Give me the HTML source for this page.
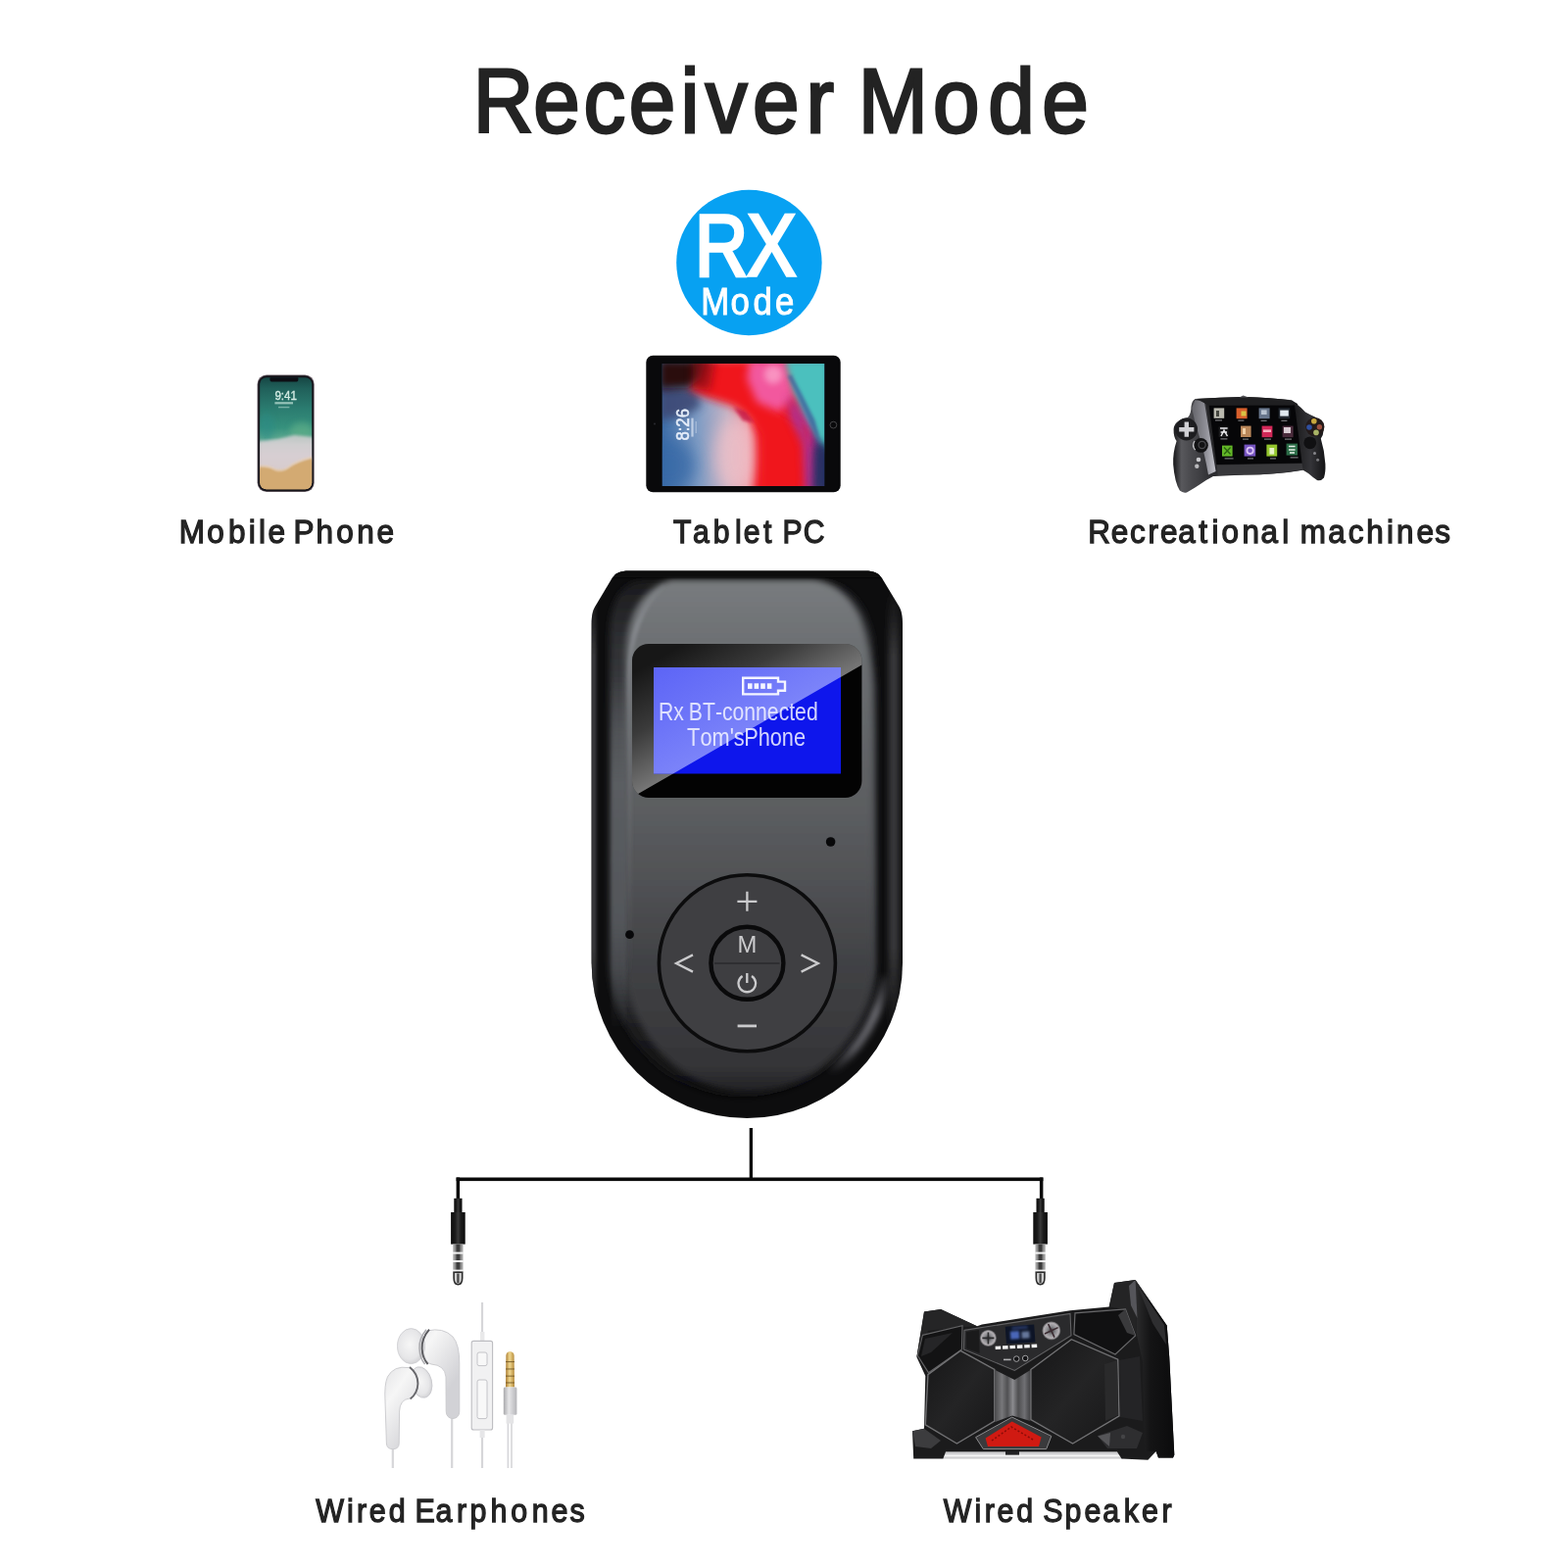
<!DOCTYPE html>
<html lang="en">
<head>
<meta charset="utf-8">
<title>Receiver Mode</title>
<style>
html,body{margin:0;padding:0;background:#fff;}
body{width:1600px;height:1600px;overflow:hidden;position:relative;font-family:"Liberation Sans",sans-serif;}
svg{position:absolute;left:0;top:0;display:block;will-change:transform;}
text{font-family:"Liberation Sans",sans-serif;}
.lbl{font-size:33.6px;fill:#232323;stroke:#232323;stroke-width:1.3px;paint-order:stroke;}
.ttl{font-size:92.4px;fill:#232323;stroke:#232323;stroke-width:2.8px;paint-order:stroke;}
</style>
</head>
<body>
<svg width="1600" height="1600" viewBox="0 0 1600 1600">
<defs>
<filter id="b1" x="-50%" y="-50%" width="200%" height="200%"><feGaussianBlur stdDeviation="0.8"/></filter>
<filter id="b2" x="-50%" y="-50%" width="200%" height="200%"><feGaussianBlur stdDeviation="1.5"/></filter>
<filter id="b3" x="-50%" y="-50%" width="200%" height="200%"><feGaussianBlur stdDeviation="3"/></filter>
<filter id="b4" x="-50%" y="-50%" width="200%" height="200%"><feGaussianBlur stdDeviation="4"/></filter>
<filter id="b8" x="-50%" y="-50%" width="200%" height="200%"><feGaussianBlur stdDeviation="8"/></filter>
</defs>
<rect width="1600" height="1600" fill="#fff"/>
<!-- title -->
<text class="ttl" transform="scale(0.9249,1)" x="521.83 588.54 643.82 693.96 750.95 778.10 830.47 889.31 920.08 946.85 1029.32 1090.21 1149.70" y="134.6">Receiver Mode</text>
<!-- RX badge -->
<g id="badge">
<circle cx="764.4" cy="268" r="74.2" fill="#07a1f2"/>
<text transform="scale(0.8404,1)" x="843.64 907.16" y="281" font-size="89.4" fill="#fff" stroke="#fff" stroke-width="3.4">RX</text>
<text transform="scale(0.8852,1)" x="807.90 842.27 868.13 893.49" y="320.7" font-size="39.2" fill="#fff" stroke="#fff" stroke-width="1">Mode</text>
</g>
<!-- labels -->
<text class="lbl" transform="scale(0.9365,1)" x="195.10 225.51 248.76 270.96 281.97 291.99 310.67 319.79 344.28 366.57 388.99 410.46" y="554.1">Mobile Phone</text>
<text class="lbl" transform="scale(0.8972,1)" x="765.84 787.99 811.29 835.91 845.80 868.26 877.60 890.01 913.80" y="554.2">Tablet PC</text>
<text class="lbl" transform="scale(0.9353,1)" x="1187.02 1212.07 1232.76 1252.45 1265.80 1285.53 1307.95 1322.07 1332.67 1355.29 1375.45 1398.82 1406.29 1418.44 1449.04 1470.88 1490.79 1512.87 1523.64 1545.54 1565.46" y="554.3">Recreational machines</text>
<text class="lbl" transform="scale(0.9054,1)" x="355.84 390.99 402.17 416.24 438.15 456.84 467.76 490.91 514.61 529.73 552.87 575.73 599.42 621.21 642.14" y="1552.8">Wired Earphones</text>
<text class="lbl" transform="scale(0.9026,1)" x="1066.70 1101.70 1113.11 1127.27 1149.19 1167.88 1178.98 1203.72 1225.87 1246.59 1270.42 1290.66 1313.29" y="1552.9">Wired Speaker</text>
<g id="wires" fill="#0a0a0a">
<rect x="764.7" y="1151" width="3.3" height="53"/>
<rect x="465.6" y="1201.5" width="598.8" height="3.6"/>
<rect x="465.6" y="1201.5" width="3.5" height="22"/>
<rect x="1060.9" y="1201.5" width="3.5" height="22"/>
</g>
<g id="phone">
  <defs>
    <clipPath id="phClip"><rect x="265.2" y="385.2" width="53" height="114" rx="6.6" ry="6.6"/></clipPath>
    <linearGradient id="phG" gradientUnits="userSpaceOnUse" x1="0" y1="385" x2="0" y2="499">
      <stop offset="0" stop-color="#164644"/><stop offset=".1" stop-color="#20605a"/><stop offset=".28" stop-color="#2b7c70"/><stop offset=".45" stop-color="#36917d"/><stop offset=".54" stop-color="#58a68e"/><stop offset=".6" stop-color="#a8c8be"/><stop offset=".7" stop-color="#d3c9ce"/><stop offset=".8" stop-color="#d2bcba"/><stop offset=".86" stop-color="#d2aa74"/><stop offset="1" stop-color="#d4ac74"/>
    </linearGradient>
  </defs>
  <rect x="262.5" y="382.5" width="58.2" height="119.6" rx="9.5" ry="9.5" fill="#6c6069"/>
  <rect x="263.3" y="383.3" width="56.6" height="118" rx="8.8" ry="8.8" fill="#15141a"/>
  <rect x="265.2" y="385.2" width="53" height="114" rx="6.6" ry="6.6" fill="url(#phG)"/>
  <g clip-path="url(#phClip)">
    <ellipse cx="308" cy="440" rx="12" ry="9" fill="#5fae88" opacity=".7" filter="url(#b3)"/>
    <ellipse cx="272" cy="436" rx="8" ry="14" fill="#2a8a86" opacity=".55" filter="url(#b3)"/>
    <path d="M262,451 L284,448 L300,444 L320,446 L320,470 L300,476 L290,481 L262,478 Z" fill="#d8d0d4" opacity=".82" filter="url(#b2)"/>
    <path d="M262,476.4 Q274,475 281,480 Q288,482.6 295,477 Q303,470.6 320,467 L320,502 L262,502 Z" fill="#d3aa72" filter="url(#b1)"/>
    <path d="M265,476 Q274,474.6 281,479.4 Q288,482 295,476.4 Q303,470 319,466.4" fill="none" stroke="#f2d6b6" stroke-width="1.2" opacity=".85" filter="url(#b1)"/>
    <rect x="275.4" y="384" width="29" height="5.6" rx="2.6" fill="#0d0e14"/>
  </g>
  <text x="291.6" y="407.6" font-size="13" text-anchor="middle" fill="#d9f0e9" stroke="#d9f0e9" stroke-width=".35" fill-opacity=".92" textLength="22.4" lengthAdjust="spacingAndGlyphs">9:41</text>
  <rect x="280.4" y="410.2" width="18.6" height="2.2" fill="#c4e6dc" opacity=".7"/>
  <rect x="284" y="414.8" width="11.4" height="1.5" fill="#c4e6dc" opacity=".5"/>
</g>
<g id="tablet">
  <defs>
    <clipPath id="tbClip"><rect x="675.8" y="371" width="165.4" height="125"/></clipPath>
    <linearGradient id="tbG" gradientUnits="userSpaceOnUse" x1="676" y1="0" x2="841" y2="0">
      <stop offset="0" stop-color="#3f6ea8"/><stop offset=".22" stop-color="#7f9cc4"/><stop offset=".4" stop-color="#c4b4c6"/><stop offset=".52" stop-color="#f0a0aa"/><stop offset=".6" stop-color="#f2202c"/><stop offset=".8" stop-color="#ee1c30"/><stop offset=".9" stop-color="#b02c8c"/><stop offset="1" stop-color="#26346a"/>
    </linearGradient>
  </defs>
  <rect x="659.3" y="362.7" width="198.4" height="139.6" rx="7" ry="7" fill="#09090b"/>
  <rect x="675.8" y="371" width="165.4" height="125" fill="url(#tbG)"/>
  <g clip-path="url(#tbClip)">
    <!-- dark slate left -->
    <polygon points="671.9,391.7 710.2,398.0 715.4,414.6 696.7,424.9 671.9,429.1" fill="#3c4a74" opacity=".9" filter="url(#b4)"/>
    <!-- deeper blue bottom-left -->
    <ellipse cx="682.2" cy="474.7" rx="27.0" ry="27.0" fill="#3468a6" opacity=".75" filter="url(#b8)"/>
    <!-- light pink centre -->
    <ellipse cx="750.7" cy="464.4" rx="20.7" ry="37.3" fill="#eec0c8" opacity=".8" filter="url(#b8)"/>
    <!-- red mass -->
    <polygon points="710.2,366.9 769.4,366.9 784.9,414.6 824.3,437.4 826.4,501.7 775.6,501.7 775.6,443.6 767.3,429.1 748.6,414.6 719.6,405.2 703.0,396.9" fill="#f0131f" filter="url(#b4)"/>
    <!-- dark top-left -->
    <polygon points="671.9,366.9 720.6,366.9 715.4,386.6 701.9,395.9 671.9,396.9" fill="#2a0810" filter="url(#b4)"/>
    <polygon points="707.1,366.9 729.9,366.9 724.8,398.0 707.1,396.9" fill="#8c0a14" opacity=".7" filter="url(#b4)"/>
    <!-- pink -->
    <polygon points="765.2,366.9 803.6,366.9 810.9,405.2 795.3,419.8 772.5,410.4 762.1,386.6" fill="#f2589e" filter="url(#b4)"/>
    <ellipse cx="789.1" cy="382.4" rx="9.3" ry="9.3" fill="#fba6cc" opacity=".75" filter="url(#b3)"/>
    <!-- magenta / purple band -->
    <polygon points="803.6,402.1 814.0,414.6 828.5,456.1 831.6,501.7 821.2,501.7 819.2,454.0 805.7,424.9" fill="#a8349a" opacity=".9" filter="url(#b4)"/>
    <!-- teal -->
    <polygon points="800.5,366.9 846.1,366.9 846.1,464.4 835.8,449.8 821.2,422.9 808.8,398.0" fill="#4cc0be" filter="url(#b3)"/>
    <polygon points="803.6,383.4 812.9,402.1 826.4,431.2 837.8,454.0 831.6,429.1 817.1,400.0 807.7,382.4" fill="#3c5a9a" opacity=".7" filter="url(#b2)"/>
    <!-- navy bottom-right -->
    <polygon points="831.6,456.1 846.1,451.9 846.1,501.7 829.5,501.7" fill="#263064" opacity=".92" filter="url(#b4)"/>
    <!-- small folds -->
    <polygon points="748.6,415.6 761.1,419.8 769.4,431.2 758.0,429.1" fill="#c01040" opacity=".7" filter="url(#b2)"/>
  </g>
  <circle cx="850.4" cy="433.6" r="3.4" fill="none" stroke="#4a4a4c" stroke-width=".9"/>
  <circle cx="668" cy="432.6" r="1" fill="#2a2a30"/>
  <text transform="translate(702.8,449.6) rotate(-90)" font-size="18.4" fill="#e6eefa" stroke="#e6eefa" stroke-width=".5" textLength="32.6" lengthAdjust="spacingAndGlyphs">8:26</text>
  <rect x="705.4" y="426.6" width="2.2" height="19" fill="#dfe8f6" opacity=".7"/>
  <rect x="709.6" y="430" width="1.2" height="12" fill="#dfe8f6" opacity=".45"/>
</g>
<g id="console">
  <defs>
    <linearGradient id="cgL" gradientUnits="userSpaceOnUse" x1="1197" y1="0" x2="1236" y2="0">
      <stop offset="0" stop-color="#141416"/><stop offset=".22" stop-color="#58585c"/><stop offset=".45" stop-color="#4a4a4e"/><stop offset=".75" stop-color="#3c3c40"/><stop offset="1" stop-color="#2c2c30"/>
    </linearGradient>
    <linearGradient id="cgR" gradientUnits="userSpaceOnUse" x1="1322" y1="0" x2="1353" y2="0">
      <stop offset="0" stop-color="#1c1c1e"/><stop offset=".5" stop-color="#343438"/><stop offset="1" stop-color="#121214"/>
    </linearGradient>
    <linearGradient id="cgP" gradientUnits="userSpaceOnUse" x1="1218" y1="0" x2="1240" y2="0">
      <stop offset="0" stop-color="#6a6a70"/><stop offset=".55" stop-color="#8e8e96"/><stop offset="1" stop-color="#c0c0c8"/>
    </linearGradient>
  </defs>
  <!-- main body bar -->
  <path d="M1219.6,407 Q1245,405.4 1269,405 Q1296,405.6 1318,408.6 L1324,412 L1334,478 L1328,480 Q1300,484.6 1270,484.4 L1238,486 L1226,420 Z" fill="#242426"/>
  <!-- left grip -->
  <path d="M1219.6,407 Q1216,409 1215.4,415.2 Q1215.6,422 1212,426 Q1198,429 1197.6,438 Q1197.4,446 1200.6,450 Q1196.6,462 1197.2,474 Q1198.6,492 1203.8,500.6 Q1207,503.4 1211,502.4 Q1219,498 1224.4,494.2 Q1232,489 1238,486 L1243,484.6 L1230,408.4 Z" fill="url(#cgL)"/>
  <!-- silver panel -->
  <path d="M1219.4,408.4 L1228.8,409.6 L1240.6,481 L1233,484.4 Q1229,462 1224,446 Q1218,428 1216.4,416 Z" fill="url(#cgP)"/>
  <!-- right grip -->
  <path d="M1318,408.6 L1322,411.6 Q1328,416 1332,420.6 Q1337,423.4 1342,425.6 Q1350,430 1350.6,439 Q1350.4,444 1347.8,447.6 Q1351.6,460 1352.4,473.6 Q1352.8,482 1351,487.4 Q1348,491 1344,490 Q1339,486.6 1335,483 L1328.5,479 L1322,430 Z" fill="url(#cgR)"/>
  <!-- screen -->
  <path d="M1233.6,413.6 L1321,413.4 L1328.6,472.4 L1241.4,474 Z" fill="#060608"/>
  <!-- bottom bar -->
  <path d="M1241.4,474.6 L1328.6,473 L1329.6,479.4 Q1300,484.4 1270,484.4 L1242.6,485 Z" fill="#38383b"/>
  <!-- top lip -->
  <path d="M1221,407 Q1245,405.4 1269,405 Q1296,405.6 1318,408.6 L1321,413 L1233,413.4 Z" fill="#1f1f21"/>
  <path d="M1264.5,405.4 L1268.6,403.4 L1274,405.4 Z" fill="#55555a"/>
  <!-- icons -->
  <g>
    <rect x="1238.6" y="416.4" width="10.6" height="10.4" fill="#b9b8ae"/><rect x="1241" y="419" width="3" height="6" fill="#45463f"/>
    <rect x="1261.6" y="416.4" width="11" height="10.8" fill="#d8602c"/><rect x="1266.5" y="419.5" width="5" height="5" fill="#d8c244"/>
    <rect x="1284.6" y="416.4" width="11" height="10.8" fill="#68768c"/><rect x="1287" y="418.4" width="5.6" height="4.6" fill="#b8c2d0"/>
    <rect x="1304.6" y="416.4" width="11.6" height="10.8" fill="#222830"/><rect x="1306.2" y="418.6" width="8.6" height="6" fill="#e0e8ef"/>
    <rect x="1243.6" y="435.4" width="10" height="10.6" fill="#1a1a1c"/><path d="M1245,437 H1252.6 M1246,445 L1249,439 L1252.4,445 M1245.6,441 H1252" stroke="#e8e8ea" stroke-width="1.5" fill="none"/>
    <rect x="1266" y="434.6" width="10.6" height="11.4" fill="#b9875a"/><rect x="1268" y="437" width="3" height="6" fill="#f0d0a8"/>
    <rect x="1287.6" y="434.6" width="10.8" height="11.6" fill="#d22858"/><rect x="1289" y="438.4" width="8" height="2.6" fill="#f8b0c0"/>
    <rect x="1308.6" y="434.6" width="11" height="11.6" fill="#4a2c3c"/><rect x="1310" y="436" width="7" height="6" fill="#d8ccd2"/>
    <rect x="1247" y="454.6" width="10.6" height="11" fill="#64b828"/><path d="M1249,456.6 L1255.6,463.6 M1255.6,456.6 L1249,463.6" stroke="#2c6412" stroke-width="1.4"/>
    <rect x="1269.6" y="453.6" width="11.6" height="12" fill="#7654c0"/><circle cx="1275.6" cy="459.8" r="3.2" fill="none" stroke="#dcc4f6" stroke-width="1.8"/>
    <rect x="1292.4" y="453.6" width="10.8" height="12" fill="#94c62e"/><rect x="1295.4" y="457" width="4.8" height="6.6" fill="#e6f2c6"/>
    <rect x="1312.6" y="452.6" width="11.4" height="12" fill="#2c6c48"/><path d="M1315,455.6 H1321.6 M1315,459 H1321.6 M1316,462 H1321" stroke="#e6efe8" stroke-width="1.5"/>
    <g fill="#c9c9cc" opacity=".7">
      <rect x="1240" y="428.4" width="7" height="1"/><rect x="1263.4" y="428.6" width="6" height="1"/><rect x="1286.6" y="428.8" width="6" height="1"/><rect x="1307.4" y="428.8" width="6" height="1"/>
      <rect x="1245.4" y="447.4" width="7" height="1"/><rect x="1268" y="447.6" width="6" height="1"/><rect x="1290" y="447.6" width="7" height="1"/><rect x="1311" y="447.6" width="7" height="1"/>
      <rect x="1249.6" y="467.4" width="9" height="1"/><rect x="1273" y="467.4" width="6" height="1"/><rect x="1296" y="467.4" width="6" height="1"/><rect x="1316.6" y="466.4" width="8" height="1"/>
    </g>
  </g>
  <!-- d-pad -->
  <circle cx="1210.6" cy="438" r="11.4" fill="#1d1d20"/>
  <path d="M1208.6,430.6 h4.4 v5.4 h5.4 v4.4 h-5.4 v5.4 h-4.4 v-5.4 h-5.4 v-4.4 h5.4 Z" fill="#d0d0d4"/>
  <!-- left stick -->
  <circle cx="1225.4" cy="454.4" r="7.4" fill="#121214"/>
  <circle cx="1226.6" cy="454" r="3.6" fill="none" stroke="#4a4a4e" stroke-width="1.2"/>
  <path d="M1219,450 A7.4,7.4 0 0 0 1219.6,459" fill="none" stroke="#c8c8cc" stroke-width="1.2"/>
  <circle cx="1223" cy="469" r="2.3" fill="#c9c9cc"/>
  <circle cx="1221.3" cy="475.8" r="2.2" fill="#b9b9bc"/>
  <!-- abxy -->
  <circle cx="1341.8" cy="435.6" r="9.6" fill="#231a1a"/>
  <circle cx="1340.8" cy="429.8" r="2.8" fill="#c9a83e"/>
  <circle cx="1336" cy="436" r="2.8" fill="#2f4f9f"/>
  <circle cx="1346.4" cy="435.8" r="2.7" fill="#9c5040"/>
  <circle cx="1343" cy="441.4" r="2.8" fill="#a9b466"/>
  <!-- right stick -->
  <circle cx="1336.8" cy="451.8" r="6.4" fill="#101012"/>
  <circle cx="1341.5" cy="462.6" r="1.5" fill="#88888c"/>
  <circle cx="1344.6" cy="469.2" r="1.5" fill="#7a7a7e"/>
</g>
<g id="device">
  <defs>
    <clipPath id="shellClip"><path d="M642,582.4 L883,582.4 C892,582.4 896,584.4 900,590 L917.5,619 C920,623.5 921,629 921,637 L921,982.3 A158.7,158.7 0 0 1 603.6,982.3 L603.6,637 C603.6,629 604.6,623.5 607.2,619 L624.5,590 C628.5,584.4 632.5,582.4 642,582.4 Z"/></clipPath>
    <clipPath id="bezelClip"><rect x="645" y="657" width="234.4" height="157" rx="17" ry="17"/></clipPath>
    <clipPath id="lcdClip"><rect x="667" y="681" width="191" height="108.5"/></clipPath>
    <linearGradient id="rimG" gradientUnits="userSpaceOnUse" x1="0" y1="590" x2="0" y2="1120">
      <stop offset="0" stop-color="#1a1a1c"/><stop offset=".1" stop-color="#2b2c2f"/><stop offset=".3" stop-color="#45474b"/><stop offset=".55" stop-color="#4b4d51"/><stop offset=".75" stop-color="#3e4044"/><stop offset=".87" stop-color="#1c1c1e"/><stop offset="1" stop-color="#0d0d0e"/>
    </linearGradient>
    <linearGradient id="faceG" gradientUnits="userSpaceOnUse" x1="0" y1="591" x2="0" y2="1120">
      <stop offset="0" stop-color="#797c7f"/><stop offset=".12" stop-color="#6d7073"/><stop offset=".45" stop-color="#5b5d60"/><stop offset=".6" stop-color="#4f5053"/><stop offset=".74" stop-color="#414245"/><stop offset=".86" stop-color="#3a3a3d"/><stop offset=".94" stop-color="#343437"/><stop offset="1" stop-color="#1e1e20"/>
    </linearGradient>
    <linearGradient id="glareG" gradientUnits="userSpaceOnUse" x1="715" y1="647" x2="770" y2="742">
      <stop offset="0" stop-color="#fff" stop-opacity=".08"/><stop offset=".5" stop-color="#fff" stop-opacity=".22"/><stop offset="1" stop-color="#fff" stop-opacity=".46"/>
    </linearGradient>
    <linearGradient id="glareL" gradientUnits="userSpaceOnUse" x1="715" y1="647" x2="770" y2="742">
      <stop offset="0" stop-color="#a2aaff" stop-opacity=".52"/><stop offset=".5" stop-color="#a2aaff" stop-opacity=".62"/><stop offset="1" stop-color="#a6aeff" stop-opacity=".72"/>
    </linearGradient>
    <linearGradient id="fadeV" gradientUnits="userSpaceOnUse" x1="0" y1="600" x2="0" y2="1060">
      <stop offset="0" stop-color="#3a3a3c" stop-opacity="0"/><stop offset=".15" stop-color="#3a3a3c" stop-opacity="1"/><stop offset=".8" stop-color="#3a3a3c" stop-opacity="1"/><stop offset="1" stop-color="#3a3a3c" stop-opacity="0"/>
    </linearGradient>
    <linearGradient id="hlL" gradientUnits="userSpaceOnUse" x1="0" y1="590" x2="0" y2="1000">
      <stop offset="0" stop-color="#8a8d92" stop-opacity=".1"/><stop offset=".12" stop-color="#8a8d92" stop-opacity=".75"/><stop offset=".35" stop-color="#7c7f84" stop-opacity=".5"/><stop offset="1" stop-color="#6a6c70" stop-opacity="0"/>
    </linearGradient>
    <linearGradient id="rimL" gradientUnits="userSpaceOnUse" x1="0" y1="690" x2="0" y2="1050">
      <stop offset="0" stop-color="#5d6064" stop-opacity="0"/><stop offset=".3" stop-color="#5d6064" stop-opacity=".85"/><stop offset=".7" stop-color="#55585c" stop-opacity=".85"/><stop offset="1" stop-color="#4a4c50" stop-opacity="0"/>
    </linearGradient>
    <linearGradient id="hlBR" gradientUnits="userSpaceOnUse" x1="905" y1="990" x2="845" y2="1095">
      <stop offset="0" stop-color="#6a6a70" stop-opacity="0"/><stop offset=".35" stop-color="#6a6a70" stop-opacity="1"/><stop offset=".7" stop-color="#66666c" stop-opacity=".9"/><stop offset="1" stop-color="#606066" stop-opacity="0"/>
    </linearGradient>
  </defs>
  <!-- outer shell -->
  <path d="M642,582.4 L883,582.4 C892,582.4 896,584.4 900,590 L917.5,619 C920,623.5 921,629 921,637 L921,982.3 A158.7,158.7 0 0 1 603.6,982.3 L603.6,637 C603.6,629 604.6,623.5 607.2,619 L624.5,590 C628.5,584.4 632.5,582.4 642,582.4 Z" fill="#0d0d0e"/>
  <g clip-path="url(#shellClip)">
    <!-- outer edge subtle highlights -->
    <rect x="603" y="600" width="5.5" height="460" fill="url(#fadeV)" filter="url(#b2)"/>
    <rect x="907" y="600" width="10" height="460" fill="url(#fadeV)" filter="url(#b3)"/>
    <!-- rim -->
    <path d="M660,592 L840,592 Q880,598 890,650 L894,700 L894,982.3 A136,137 0 0 1 622,982.3 L622,650 Q622,592 660,592 Z" fill="url(#rimG)" filter="url(#b3)"/>
    <!-- face -->
    <path d="M688,591.5 L830,591.5 Q862,596 878,630 Q889,660 890,700 L890,982.3 A125.8,132 0 0 1 638.4,982.3 L638.4,668 Q639.4,606 685,591.5 Z" fill="url(#faceG)" filter="url(#b3)"/>
    <!-- top black lip -->
    <rect x="600" y="575" width="330" height="14.5" fill="#0b0b0c" filter="url(#b1)"/>
    <!-- left mid rim stripe -->
    <rect x="624" y="690" width="15" height="360" fill="url(#rimL)" filter="url(#b2)"/>
    <!-- left rim light -->
    <path d="M642.2,1000 L642.2,690 Q642.6,628 678,597" fill="none" stroke="url(#hlL)" stroke-width="5" filter="url(#b2)"/>
    <!-- bottom right highlight -->
    <path d="M903,996 A141,141 0 0 1 846,1094" fill="none" stroke="url(#hlBR)" stroke-width="9" filter="url(#b3)"/>
  </g>
  <!-- screen bezel -->
  <rect x="645" y="657" width="234.4" height="157" rx="17" ry="17" fill="#030303"/>
  <g clip-path="url(#bezelClip)">
    <polygon points="640,650 930,650 930,649.5 879.4,678.4 652.5,809.3 640,816.5" fill="url(#glareG)"/>
  </g>
  <!-- LCD -->
  <rect x="667" y="681" width="191" height="108.5" fill="#0e16ec"/>
  <g clip-path="url(#lcdClip)">
    <polygon points="640,650 930,650 930,649.5 879.4,678.4 652.5,809.3 640,816.5" fill="url(#glareL)"/>
  </g>
  <!-- battery -->
  <g fill="none" stroke="#f4f5ff" stroke-width="2.4">
    <path d="M758.2,691.8 H794 V695.6 H801 V704.8 H794 V708.4 H758.2 Z"/>
  </g>
  <g fill="#f4f5ff">
    <rect x="763" y="697.3" width="4.6" height="5.6"/><rect x="769.6" y="697.3" width="4.6" height="5.6"/><rect x="776.2" y="697.3" width="4.6" height="5.6"/><rect x="782.8" y="697.3" width="4.6" height="5.6"/>
  </g>
  <text transform="scale(0.8334,1)" x="806.30 824.65 837.35 843.39 860.33 875.85 884.31 897.01 911.13 925.26 939.38 953.51 966.21 973.27 987.39" y="735.2" font-size="25.4" fill="#f2f3ff" fill-opacity=".86">Rx BT-connected</text>
  <text transform="scale(0.8571,1)" x="818.03 833.55 847.67 868.83 873.68 886.38 885.71 902.66 916.78 930.91 945.03" y="760.8" font-size="25.4" fill="#f2f3ff" fill-opacity=".86">Tom's Phone</text>
  <!-- dots -->
  <circle cx="847.6" cy="859" r="4.8" fill="#08080a"/>
  <circle cx="642.5" cy="953.7" r="4.4" fill="#08080a"/>
  <!-- d-pad -->
  <circle cx="762.4" cy="982.8" r="90" fill="#3f3f42" stroke="#0c0c0d" stroke-width="3.6"/>
  <circle cx="762.4" cy="982.8" r="37" fill="#3e3e41" stroke="#0a0a0b" stroke-width="4.4"/>
  <line x1="729" y1="983" x2="795.5" y2="983" stroke="#2a2a2c" stroke-width="1.6"/>
  <g fill="none" stroke="#cbcbcd" stroke-width="2.3">
    <path d="M752.4,919.8 H772.4 M762.4,909.8 V929.8"/>
    <path d="M752.6,1046.9 H772" stroke-width="2.8"/>
    <path d="M707,974.4 L690,983 L707,991.6"/>
    <path d="M817.6,974.4 L834.8,983 L817.6,991.6"/>
    <path d="M757.6,996 A8.8,8.8 0 1 0 767,996 M762.3,993 V1003"/>
  </g>
  <text x="762.4" y="971.8" font-size="23.8" text-anchor="middle" fill="#cbcbcd">M</text>
</g>
<g id="jacks">
  <defs>
    <linearGradient id="jkB" x1="0" y1="0" x2="1" y2="0">
      <stop offset="0" stop-color="#0a0a0a"/><stop offset=".3" stop-color="#1c1c1c"/><stop offset=".5" stop-color="#383838"/><stop offset=".7" stop-color="#1c1c1c"/><stop offset="1" stop-color="#0a0a0a"/>
    </linearGradient>
    <linearGradient id="jkM" x1="0" y1="0" x2="1" y2="0">
      <stop offset="0" stop-color="#b8b8b8"/><stop offset=".22" stop-color="#8a8a8a"/><stop offset=".4" stop-color="#3c3c3c"/><stop offset=".6" stop-color="#3c3c3c"/><stop offset=".78" stop-color="#8a8a8a"/><stop offset="1" stop-color="#b8b8b8"/>
    </linearGradient>
    <g id="jack">
      <rect x="-4.1" y="1222.8" width="8.2" height="15" fill="url(#jkB)"/>
      <rect x="-7.3" y="1237" width="14.6" height="32.6" fill="url(#jkB)"/>
      <rect x="-5.2" y="1269.6" width="10.4" height="29" fill="url(#jkM)"/>
      <rect x="-5.4" y="1277.6" width="10.8" height="2" fill="#f4f4f4"/>
      <rect x="-5.4" y="1286" width="10.8" height="2" fill="#f4f4f4"/>
      <rect x="-5.4" y="1295.6" width="10.8" height="2" fill="#f4f4f4"/>
      <path d="M-4.3,1298.2 H4.3 V1304 C4.3,1308.4 2.6,1310.6 0,1310.6 C-2.6,1310.6 -4.3,1308.4 -4.3,1304 Z" fill="#cfcfcf" stroke="#2c2c2c" stroke-width="1.6"/>
      <rect x="-1.1" y="1299.5" width="2.2" height="9.5" fill="#444"/>
    </g>
  </defs>
  <use href="#jack" transform="translate(467.4,0)"/>
  <use href="#jack" transform="translate(1061.6,0)"/>
</g>
<g id="earphones">
  <defs>
    <linearGradient id="epA" gradientUnits="userSpaceOnUse" x1="405" y1="1355" x2="470" y2="1400">
      <stop offset="0" stop-color="#dadadd"/><stop offset=".45" stop-color="#f6f6f6"/><stop offset="1" stop-color="#d2d2d6"/>
    </linearGradient>
    <radialGradient id="epT" cx=".45" cy=".45" r=".6"><stop offset="0" stop-color="#f6f6f6"/><stop offset=".7" stop-color="#e6e6e8"/><stop offset="1" stop-color="#cdcdd0"/></radialGradient>
    <linearGradient id="epS" x1="0" y1="0" x2="1" y2="0">
      <stop offset="0" stop-color="#dedee0"/><stop offset=".4" stop-color="#f8f8f8"/><stop offset="1" stop-color="#e2e2e4"/>
    </linearGradient>
    <linearGradient id="epJ" x1="0" y1="0" x2="1" y2="0">
      <stop offset="0" stop-color="#a9a9ac"/><stop offset=".4" stop-color="#e6e6e8"/><stop offset="1" stop-color="#b4b4b8"/>
    </linearGradient>
    <linearGradient id="epGold" x1="0" y1="0" x2="1" y2="0">
      <stop offset="0" stop-color="#a8782c"/><stop offset=".45" stop-color="#f0d890"/><stop offset="1" stop-color="#b48838"/>
    </linearGradient>
  </defs>
  <!-- cables -->
  <g fill="none" stroke="#d6d6d9" stroke-width="2.2">
    <path d="M400.8,1476 V1498"/>
    <path d="M461.2,1446 V1498"/>
    <path d="M492,1329 V1368 M492,1459 V1498"/>
    <path d="M518.4,1444 V1498 M522,1444 V1498" stroke-width="1.6"/>
  </g>
  <!-- upper earbud -->
  <path d="M436,1358 Q452,1354 462,1364 Q469,1372 468.8,1392 L468.8,1440 Q468.8,1447 462,1447.6 Q455.4,1447 455.2,1440 L455,1405 Q454,1393 440,1392 Q433,1391 432,1376 Q432,1362 436,1358 Z" fill="url(#epA)" stroke="#c8c8cc" stroke-width=".9"/>
  <ellipse cx="419.5" cy="1373.6" rx="14" ry="18" fill="url(#epT)" stroke="#cfcfd2" stroke-width=".9"/>
  <path d="M438,1356.6 Q430,1366 430.6,1376 Q431,1386 436.6,1392" fill="none" stroke="#5a5a5e" stroke-width="1.9"/>
  <path d="M435,1356.8 Q427.4,1366 428,1376 Q428.4,1386 433.6,1392" fill="none" stroke="#aeaeb2" stroke-width="1.6"/>
  <!-- lower earbud -->
  <ellipse cx="430" cy="1410.5" rx="10.5" ry="16" fill="url(#epT)" stroke="#cacace" stroke-width=".9" transform="rotate(-14 430 1410.5)"/>
  <path d="M417,1395.6 Q402,1393 395.4,1405 Q392,1413 393,1430 L394.4,1473 Q394.8,1478.6 401,1478.8 Q407,1478.6 407.2,1473 L407.6,1440 Q408,1428 418,1427 Q427,1424 427,1410 Q426,1398 417,1395.6 Z" fill="url(#epA)" stroke="#c8c8cc" stroke-width=".9"/>
  <path d="M418,1395 Q426.6,1402 426.4,1412 Q426,1422 418.6,1427.4" fill="none" stroke="#66666a" stroke-width="1.8"/>
  <!-- remote -->
  <rect x="490" y="1359" width="4.4" height="10" fill="#e9e9ea"/>
  <rect x="481.2" y="1368.4" width="21.4" height="90.6" rx="2" fill="#f1f1f2" stroke="#bdbdc1" stroke-width="1.1"/>
  <rect x="487" y="1380" width="10" height="13.6" rx="2" fill="#f8f8f8" stroke="#c4c4c8" stroke-width="1"/>
  <rect x="487" y="1408" width="10" height="39.6" rx="2" fill="#f8f8f8" stroke="#c4c4c8" stroke-width="1"/>
  <rect x="489.6" y="1459" width="5" height="8" fill="#e6e6e8"/>
  <!-- jack -->
  <path d="M516.4,1383 Q516.6,1379.4 520.4,1379 Q524.4,1379.4 524.6,1383 L525,1415.6 L516,1415.6 Z" fill="url(#epGold)"/>
  <g fill="#6a5020" opacity=".75"><rect x="516" y="1389" width="9" height="1.1"/><rect x="516" y="1396.4" width="9" height="1.1"/><rect x="516" y="1403.6" width="9" height="1.1"/><rect x="516" y="1410.4" width="9" height="1.1"/></g>
  <rect x="513.8" y="1415.6" width="13.6" height="28.2" rx="1.4" fill="url(#epJ)"/>
  <rect x="516.6" y="1443.6" width="7.6" height="9" fill="#e4e4e6"/>
</g>
<g id="speaker">
  <defs>
    <linearGradient id="spCol" gradientUnits="userSpaceOnUse" x1="1015" y1="0" x2="1052" y2="0">
      <stop offset="0" stop-color="#4a4a4c"/><stop offset=".2" stop-color="#77777a"/><stop offset=".35" stop-color="#505052"/><stop offset=".5" stop-color="#8a8a8e"/><stop offset=".65" stop-color="#4e4e50"/><stop offset=".82" stop-color="#707074"/><stop offset="1" stop-color="#3c3c3e"/>
    </linearGradient>
    <linearGradient id="spHex" x1="0" y1="0" x2="1" y2="1">
      <stop offset="0" stop-color="#161617"/><stop offset=".5" stop-color="#242425"/><stop offset="1" stop-color="#171718"/>
    </linearGradient>
    <linearGradient id="spSide" gradientUnits="userSpaceOnUse" x1="1160" y1="0" x2="1199" y2="0">
      <stop offset="0" stop-color="#2a2a2b"/><stop offset=".35" stop-color="#141415"/><stop offset="1" stop-color="#0b0b0c"/>
    </linearGradient>
    <radialGradient id="spKnob" cx=".5" cy=".5" r=".5">
      <stop offset="0" stop-color="#3a3a3c"/><stop offset=".45" stop-color="#8c8c90"/><stop offset=".8" stop-color="#b4b0b4"/><stop offset="1" stop-color="#4a4a4c"/>
    </radialGradient>
  </defs>
  <!-- floor reflection -->
  <rect x="962" y="1482" width="184" height="6.6" fill="#cfcfd1"/>
  <rect x="962" y="1484.4" width="184" height="2" fill="#f4f4f4"/>
  <!-- silhouette -->
  <path d="M943,1338.5 L960,1336 L997,1353.3 L1002,1351.4 L1092,1337.3 L1131.7,1333.4 L1137,1309 L1158.6,1306 L1190.7,1352.6 L1193.2,1384.7 L1198.3,1484.6 L1197,1487.4 L1182,1487.4 L1179.6,1481 L1171.4,1489.7 L1144.5,1488.4 L1140,1481.4 L965,1481.4 L962.3,1488.4 L932.2,1488.4 L931,1460.2 L943,1457.7 L944.3,1404 L935.4,1384.7 Z" fill="#1b1b1c"/>
  <!-- right side face -->
  <path d="M1158.6,1306 L1190.7,1352.6 L1193.2,1384.7 L1198.3,1484.6 L1197,1487.4 L1182,1487.4 L1179.6,1481 L1168,1481 L1166,1390 L1160,1362 Z" fill="url(#spSide)"/>
  <path d="M1160,1310 L1188,1352 L1190,1372 L1176,1350 Z" fill="#2e2e30"/>
  <!-- right horn front -->
  <path d="M1137,1309 L1158.6,1306 L1160,1362 L1148.4,1336 L1131.7,1333.4 Z" fill="#242425"/>
  <path d="M1152,1312 L1158.6,1306 L1160.5,1345 L1154,1332 Z" fill="#55555a"/>
  <!-- left horn -->
  <path d="M943,1338.5 L960,1336 L997,1353.3 L981.5,1354 L947,1358 L935.4,1384.7 Z" fill="#252526"/>
  <path d="M941.4,1362.4 L982,1352.6 L981.4,1377 L947.4,1400.6 L936.4,1383.4 Z" fill="#131314" stroke="#626264" stroke-width="1.1"/>
  <path d="M944,1366 L972,1360 L950,1380 L940,1384 Z" fill="#2a2a2c" opacity=".8"/>
  <!-- upper right panel -->
  <path d="M1097,1339.8 L1148.4,1336 L1158.6,1362.9 L1138,1382 L1095.9,1361.6 Z" fill="#111112" stroke="#68686a" stroke-width="1.2"/>
  <path d="M1141,1342 L1148.4,1336 L1158.6,1362.9 L1150,1360 Z" fill="#3a3a3c"/>
  <!-- control panel -->
  <path d="M984,1357.4 L1092,1340.4 L1093,1362.6 L1035.3,1398.4 L983.4,1377 Z" fill="#2a2a2c" stroke="#626264" stroke-width="1.1"/>
  <path d="M986,1359 L999,1357 L999.6,1381 L986,1376 Z" fill="#1a1a1b"/>
  <rect x="1026.3" y="1352.6" width="29.5" height="18" fill="#0d1426" transform="rotate(-4 1041 1361)"/>
  <g transform="rotate(-4 1041 1361)" filter="url(#b1)"><rect x="1031" y="1358" width="9" height="8" fill="#4a66b8"/><rect x="1042.4" y="1359" width="8" height="7" fill="#8aa0cc" opacity=".7"/><rect x="1033" y="1353.6" width="16" height="2.6" fill="#2a3a6a"/></g>
  <circle cx="1008.4" cy="1365.4" r="8.6" fill="url(#spKnob)"/>
  <path d="M1002.4,1365.4 H1014.4 M1008.4,1359.4 V1371.4" stroke="#2a2a2c" stroke-width="1.6"/>
  <circle cx="1072.8" cy="1357.8" r="9.6" fill="url(#spKnob)"/>
  <path d="M1066,1361 L1079.6,1354.6 M1069.6,1351 L1076,1364.6" stroke="#3a2a30" stroke-width="1.6"/>
  <g fill="#f0f0f0" transform="rotate(-3 1037 1374)">
    <rect x="1015.6" y="1372.6" width="5.6" height="3.4"/><rect x="1023" y="1372.6" width="5.6" height="3.4"/><rect x="1030.4" y="1372.6" width="5.6" height="3.4"/><rect x="1037.8" y="1372.6" width="5.6" height="3.4"/><rect x="1045.2" y="1372.6" width="5.6" height="3.4"/><rect x="1052.6" y="1372.6" width="5.6" height="3.4"/>
  </g>
  <rect x="1024" y="1386.6" width="7.6" height="1.6" fill="#b0b0b2"/>
  <circle cx="1037.2" cy="1386.6" r="2.8" fill="#141416" stroke="#a0a0a2" stroke-width="1"/>
  <circle cx="1046.2" cy="1386" r="2.8" fill="#141416" stroke="#a0a0a2" stroke-width="1"/>
  <!-- center column -->
  <path d="M1015.6,1398 L1035.3,1408 L1051.4,1398 L1051.4,1450 L1033,1444.6 L1015.6,1451 Z" fill="url(#spCol)"/>
  <!-- hex grills -->
  <path d="M946.9,1402.6 L980.2,1378.3 L1014.8,1397.5 L1014.8,1450 L976.4,1473 L944.3,1453.8 Z" fill="url(#spHex)" stroke="#727274" stroke-width="1.4"/>
  <path d="M1051.9,1397.5 L1093.3,1366.7 L1140.7,1387.2 L1142,1444.9 L1094.6,1473 L1051.9,1448.7 Z" fill="url(#spHex)" stroke="#727274" stroke-width="1.4"/>
  <path d="M1127,1392 L1140,1388 L1141,1444 L1128,1450 Z" fill="#2a2a2b"/>
  <!-- right column -->
  <path d="M1142,1388 L1163,1384 L1166,1450 L1143,1446 Z" fill="#242426"/>
  <!-- red light -->
  <path d="M995.6,1466.6 L1032.7,1446.1 L1072.8,1465.4 L1067.7,1478.6 L1003.3,1478.6 Z" fill="#3a3a3c" stroke="#8a8a8c" stroke-width="1"/>
  <path d="M1005.6,1467.6 L1032.7,1450.4 L1062.6,1466.4 L1060,1476 L1008,1476 Z" fill="#d01a12"/>
  <path d="M1012,1470 L1032,1456 L1054,1469" fill="none" stroke="#8a0c08" stroke-width="1.5" stroke-dasharray="2 2"/>
  <!-- feet -->
  <path d="M931,1460.2 L943,1457.7 L960,1470 L950,1478 L934,1476 Z" fill="#3c3c3e"/>
  <path d="M1120,1465 L1150,1455 L1166,1462 L1160,1478 L1130,1478 Z" fill="#2e2e30"/>
  <path d="M1120,1465.6 L1133,1462 L1132,1476 Z" fill="#555558"/>
  <circle cx="1146" cy="1466" r="2.2" fill="#444446"/>
  <rect x="1026" y="1481" width="14" height="3.6" fill="#222224"/>
</g>
</svg>
</body>
</html>
